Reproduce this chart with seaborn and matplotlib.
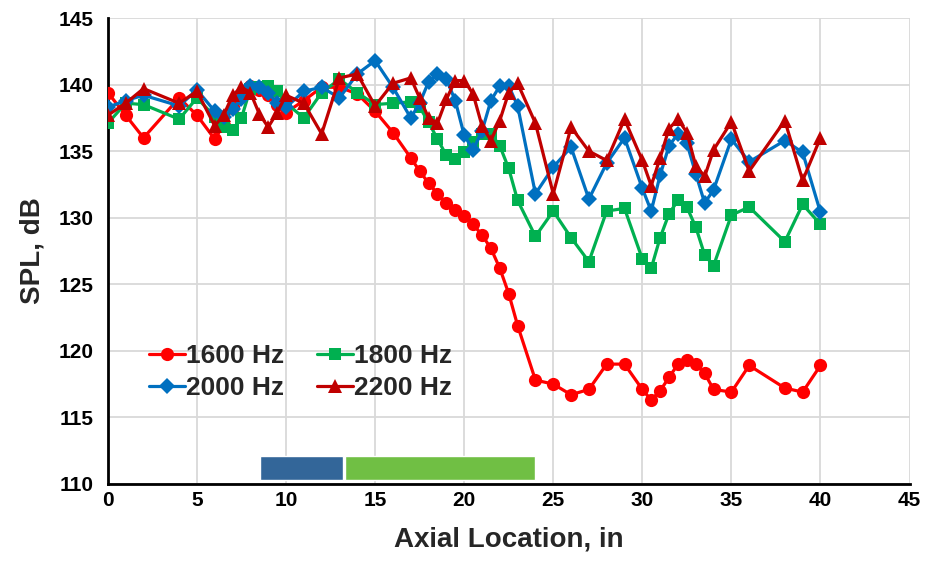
import matplotlib
matplotlib.use('Agg')
import matplotlib.pyplot as plt
import seaborn as sns
import pandas as pd

# axial locations (in), shared by all frequencies
axial = [0, 1, 2, 4, 5, 6, 6.5, 7, 7.5, 8, 8.5, 9, 9.5, 10, 11, 12, 13, 14, 15, 16,
         17, 17.5, 18, 18.5, 19, 19.5, 20, 20.5, 21, 21.5, 22, 22.5, 23, 24, 25, 26,
         27, 28, 29, 30, 30.5, 31, 31.5, 32, 32.5, 33, 33.5, 34, 35, 36, 38, 39, 40]

spl_1600 = [139.4, 137.7, 136.0, 139.0, 137.7, 135.9, 137.0, 138.3, 139.3, 139.9, 139.6,
            139.2, 138.5, 137.9, 138.8, 139.8, 139.8, 139.3, 138.0, 136.4, 134.5, 133.5,
            132.6, 131.8, 131.1, 130.6, 130.1, 129.5, 128.7, 127.7, 126.2, 124.3, 121.9,
            117.8, 117.5, 116.7, 117.1, 119.0, 119.0, 117.1, 116.3, 117.0, 118.0, 119.0,
            119.3, 119.0, 118.3, 117.1, 116.9, 118.9, 117.2, 116.9, 118.9]

spl_1800 = [137.1, 138.6, 138.5, 137.4, 139.0, 137.6, 136.8, 136.6, 137.5, 139.7, 139.8,
            139.9, 139.5, 138.6, 137.5, 139.4, 140.4, 139.4, 138.5, 138.6, 138.7, 138.3,
            137.2, 135.9, 134.7, 134.4, 134.9, 135.7, 136.3, 136.3, 135.4, 133.7, 131.3,
            128.6, 130.5, 128.5, 126.7, 130.5, 130.7, 126.9, 126.2, 128.5, 130.3, 131.3,
            130.8, 129.3, 127.2, 126.4, 130.2, 130.8, 128.2, 131.0, 129.5]

spl_2000 = [138.3, 138.8, 139.2, 138.4, 139.6, 138.0, 137.6, 138.2, 138.9, 139.9, 139.8,
            139.4, 138.6, 138.3, 139.5, 139.8, 139.0, 140.8, 141.8, 139.8, 137.5, 138.6,
            140.2, 140.8, 140.4, 138.8, 136.2, 135.1, 136.5, 138.8, 139.9, 139.9, 138.4,
            131.8, 133.8, 135.3, 131.4, 134.1, 136.0, 132.2, 130.5, 133.2, 135.4, 136.3,
            135.6, 133.3, 131.1, 132.1, 135.9, 134.2, 135.8, 134.9, 130.4]

spl_2200 = [137.7, 138.6, 139.7, 138.6, 139.5, 136.9, 137.7, 139.2, 139.8, 139.4, 137.8,
            136.8, 137.9, 139.2, 138.6, 136.3, 140.5, 140.8, 138.4, 140.1, 140.5, 139.0,
            137.5, 137.1, 138.9, 140.3, 140.3, 139.3, 136.9, 135.8, 137.3, 139.4, 140.1,
            137.1, 131.8, 136.8, 135.0, 134.3, 137.4, 134.3, 132.4, 134.5, 136.7, 137.4,
            136.4, 133.9, 133.1, 135.1, 137.2, 133.5, 137.3, 132.8, 136.0]

series_names = ["1600 Hz", "1800 Hz", "2000 Hz", "2200 Hz"]
series_values = [spl_1600, spl_1800, spl_2000, spl_2200]

# treated-section bars along the bottom (start, end in inches)
seg_start = [8.55, 13.3]
seg_end = [13.2, 23.95]
seg_colors = ["#336699", "#70BF44"]

frames = []
for name, vals in zip(series_names, series_values):
    frames.append(pd.DataFrame({"Axial": axial, "SPL": vals, "Freq": name}))
df = pd.concat(frames, ignore_index=True)

palette = {"1600 Hz": "#FF0000", "1800 Hz": "#00B050",
           "2000 Hz": "#0070C0", "2200 Hz": "#C00000"}
markers = {"1600 Hz": "o", "1800 Hz": "s", "2000 Hz": "D", "2200 Hz": "^"}
msizes = {"1600 Hz": 9.5, "1800 Hz": 8.5, "2000 Hz": 8, "2200 Hz": 10.5}

sns.set_style("white")
plt.rcParams['font.family'] = ['Liberation Sans', 'DejaVu Sans']
plt.rcParams['font.weight'] = 'bold'

fig = plt.figure(figsize=(9.3, 5.64), dpi=100)
ax = fig.add_axes([0.116, 0.142, 0.862, 0.826])

for name in series_names:
    sub = df[df["Freq"] == name]
    sns.lineplot(data=sub, x="Axial", y="SPL", ax=ax, color=palette[name],
                 marker=markers[name], markersize=msizes[name], markeredgewidth=0,
                 linewidth=2.3, label=name, sort=False, zorder=3)

for s, e, c in zip(seg_start, seg_end, seg_colors):
    ax.barh(111.2, e - s, left=s, height=1.75, color=c, zorder=2)

ax.set_xlim(0, 45)
ax.set_ylim(110, 145)
ax.set_xticks(range(0, 46, 5))
ax.set_yticks(range(110, 146, 5))
ax.grid(True, color="#D9D9D9", linewidth=1.3, zorder=0)
ax.set_axisbelow(True)

for side in ["top", "right"]:
    ax.spines[side].set_visible(False)
for side in ["left", "bottom"]:
    ax.spines[side].set_color("black")
    ax.spines[side].set_linewidth(2)

ax.tick_params(axis="both", direction="in", length=6, width=2, labelsize=15,
               pad=10, colors="black")
ax.tick_params(axis="x", pad=5)
for lbl in ax.get_xticklabels() + ax.get_yticklabels():
    lbl.set_fontweight("bold")

ax.set_xlabel("Axial Location, in", fontsize=20, fontweight="bold", labelpad=12)
ax.set_ylabel("SPL, dB", fontsize=20, fontweight="bold", labelpad=10)

handles, labels = ax.get_legend_handles_labels()
order = [0, 2, 1, 3]
ax.legend([handles[i] for i in order], [labels[i] for i in order], ncol=2,
          frameon=False, loc="upper left", bbox_to_anchor=(0.038, 0.322),
          prop={"size": 19, "weight": "bold"}, handlelength=1.35,
          handletextpad=0.05, columnspacing=1.25, labelspacing=0.3,
          borderaxespad=0)

fig.savefig("out.png", dpi=100)
